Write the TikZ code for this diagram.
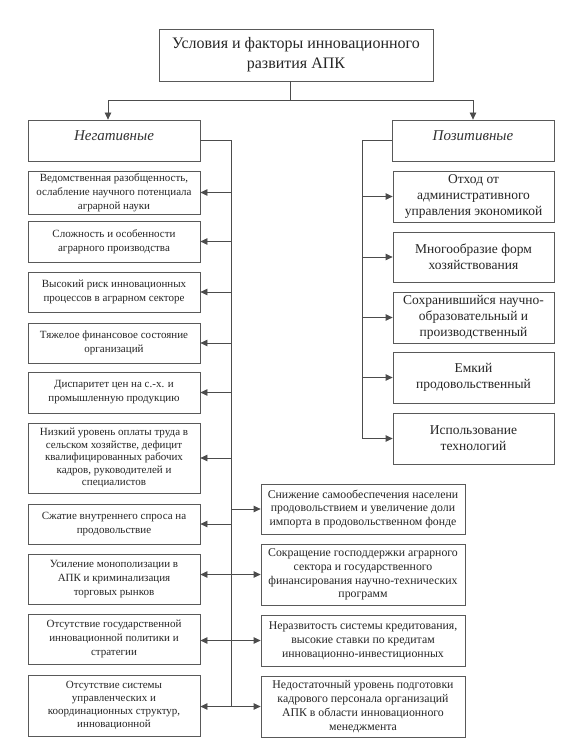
\documentclass[tikz,border=0pt]{standalone}
\usepackage{fontspec}
\setmainfont{Liberation Serif}
\newfontfamily\tmsfont{Liberation Serif}
\usetikzlibrary{arrows.meta}
\begin{document}
\begin{tikzpicture}[x=1pt,y=-1pt,
  box/.style={draw=black!65, line width=0.8pt, align=center, inner sep=1pt, text=black!85},
  titlebox/.style={box, minimum width=274pt, minimum height=52pt, font=\tmsfont\fontsize{16}{20}\selectfont},
  headbox/.style={box, minimum height=41pt},
  headtext/.style={font=\tmsfont\itshape\fontsize{15}{16}\selectfont, text=black!80},
  lbox/.style={box, minimum width=172pt, font=\tmsfont\fontsize{11}{14}\selectfont},
  rbox/.style={box, minimum width=204pt, font=\tmsfont\fontsize{11.8}{13.8}\selectfont},
  pbox/.style={box, minimum width=161pt, minimum height=51pt, font=\tmsfont\fontsize{13.5}{16}\selectfont},
  conn/.style={draw=black!70, line width=0.8pt},
  arr/.style={conn, -{Triangle[length=7pt,width=6.5pt]}},
  arrtwo/.style={conn, {Triangle[length=7pt,width=6.5pt]}-{Triangle[length=7pt,width=6.5pt]}}
]
\useasboundingbox[fill=white] (0,0) rectangle (565,749);

\node[titlebox] (title) at (296,55) {Условия и факторы инновационного\\развития АПК};
\node[headbox, minimum width=172pt] (neg) at (114,140.5) {};
\node[headtext] (negt) at (114,135.5) {Негативные};
\node[headbox, minimum width=162pt] (pos) at (473,140.5) {};
\node[headtext] (post) at (473,135.5) {Позитивные};

% left column
\node[lbox, minimum height=43pt] (n1) at (114,192.5) {Ведомственная разобщенность,\\ослабление научного потенциала\\аграрной науки};
\node[lbox, minimum height=41pt] (n2) at (114,241.5) {Сложность и особенности\\аграрного производства};
\node[lbox, minimum height=40pt] (n3) at (114,292) {Высокий риск инновационных\\процессов в аграрном секторе};
\node[lbox, minimum height=40pt] (n4) at (114,343) {Тяжелое финансовое состояние\\организаций};
\node[lbox, minimum height=41pt] (n5) at (114,392.5) {Диспаритет цен на с.-х. и\\промышленную продукцию};
\node[lbox, minimum height=70pt, font=\tmsfont\fontsize{11}{12.6}\selectfont] (n6) at (114,458) {Низкий уровень оплаты труда в\\сельском хозяйстве, дефицит\\квалифицированных рабочих\\кадров, руководителей и\\специалистов};
\node[lbox, minimum height=40pt] (n7) at (114,524) {Сжатие внутреннего спроса на\\продовольствие};
\node[lbox, minimum height=50pt] (n8) at (114,579) {Усиление монополизации в\\АПК и криминализация\\торговых рынков};
\node[lbox, minimum height=50pt] (n9) at (114,639) {Отсутствие государственной\\инновационной политики и\\стратегии};
\node[lbox, minimum height=61pt, font=\tmsfont\fontsize{11}{13.2}\selectfont] (n10) at (114,705.5) {Отсутствие системы\\управленческих и\\координационных структур,\\инновационной};

% bottom right column
\node[rbox, minimum height=50pt] (r1) at (363,509) {Снижение самообеспечения населени\\продовольствием и увеличение доли\\импорта в продовольственном фонде};
\node[rbox, minimum height=61pt] (r2) at (363,574.5) {Сокращение господдержки аграрного\\сектора и государственного\\финансирования научно-технических\\программ};
\node[rbox, minimum height=51pt] (r3) at (363,640.5) {Неразвитость системы кредитования,\\высокие ставки по кредитам\\инновационно-инвестиционных};
\node[rbox, minimum height=61pt] (r4) at (363,706.5) {Недостаточный уровень подготовки\\кадрового персонала организаций\\АПК в области инновационного\\менеджмента};

% positive column
\node[pbox] (p1) at (473.5,196.5) {Отход от\\административного\\управления экономикой};
\node[pbox, minimum height=50pt] (p2) at (473.5,257) {Многообразие форм\\хозяйствования};
\node[pbox] (p3) at (473.5,317.5) {Сохранившийся научно-\\образовательный и\\производственный};
\node[pbox] (p4) at (473.5,377.5) {Емкий\\продовольственный};
\node[pbox] (p5) at (473.5,438.5) {Использование\\технологий};

% top connectors
\coordinate (split) at (290,100);
\draw[conn] (title.south -| split) -- (split);
\draw[arr] (split) -| ([xshift=-6pt]neg.north);
\draw[arr] (split) -| (pos.north);

% negative bus
\coordinate (nb) at (231,0);
\draw[conn] (neg.east) -- (neg.east -| nb) -- (nb |- r4.west);
\foreach \n in {n1,n2,n3,n4,n5,n6,n7}
  \draw[arr] (nb |- \n.east) -- (\n.east);
\draw[arr] (nb |- r1.west) -- (r1.west);
\draw[arrtwo] (r2.west -| n8.east) -- (r2.west);
\draw[arrtwo] (r3.west -| n9.east) -- (r3.west);
\draw[arrtwo] (r4.west -| n10.east) -- (r4.west);

% positive bus
\coordinate (pb) at (362,0);
\draw[conn] (pos.west) -- (pos.west -| pb) -- (pb |- p5.west);
\foreach \n in {p1,p2,p3,p4,p5}
  \draw[arr] (pb |- \n.west) -- (\n.west);
\end{tikzpicture}
\end{document}
